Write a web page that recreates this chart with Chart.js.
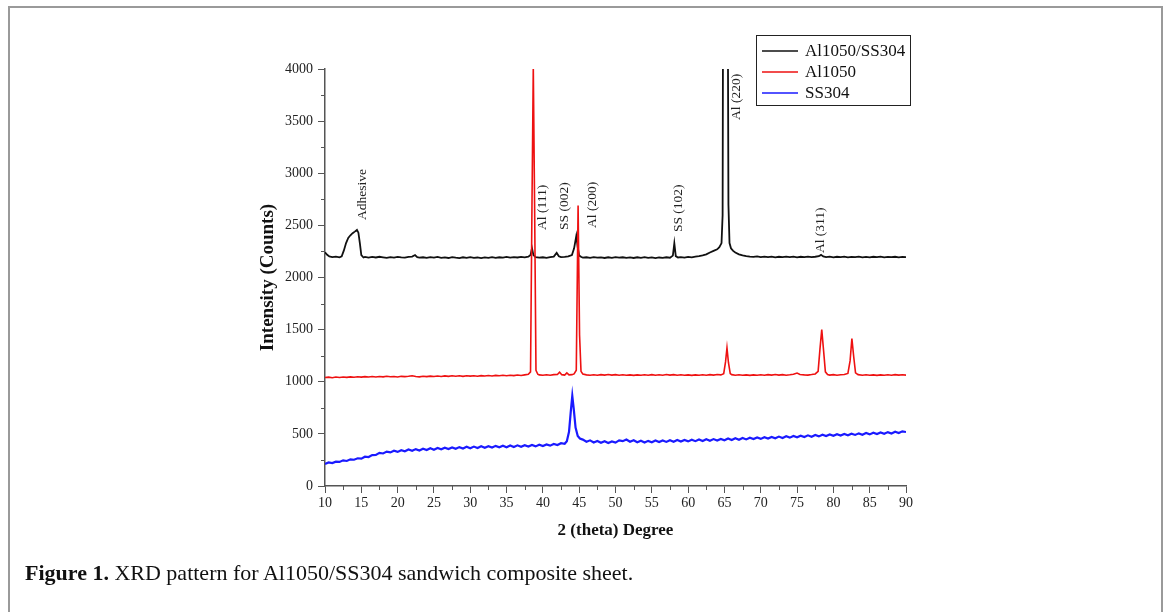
<!DOCTYPE html>
<html>
<head>
<meta charset="utf-8">
<title>XRD pattern for Al1050/SS304</title>
<script src="https://cdn.jsdelivr.net/npm/chart.js@4.4.1/dist/chart.umd.min.js"></script>
<style>
  html, body { margin: 0; padding: 0; background: #fff; }
  body { width: 1168px; height: 612px; position: relative; overflow: hidden;
         font-family: "Liberation Serif", "Times New Roman", serif; }
  #frame { position: absolute; left: 8px; top: 6px; width: 1151px; height: 700px;
           border: 2px solid #9a9a9a; border-bottom: none; }
  #xrd { position: absolute; left: 0; top: 0; }
  #caption { position: absolute; left: 25px; top: 560px; font-size: 22px; line-height: 26px; color: #111; }
</style>
</head>
<body>
<div id="frame"></div>
<canvas id="xrd" width="1168" height="612"></canvas>
<div id="caption"><b>Figure 1.</b> XRD pattern for Al1050/SS304 sandwich composite sheet.</div>
<script>
// Series names, in legend order
const seriesNames = ['Al1050/SS304', 'Al1050', 'SS304'];

// [2 theta, counts]
const sandwichPts = [
  [10,2242],[10.3,2218],[10.6,2202],[11,2196],[11.5,2201],[12,2194],[12.3,2203],[12.6,2260],[12.9,2330],[13.2,2380],
  [13.5,2405],[13.8,2425],[14.1,2440],[14.4,2456],[14.6,2430],[14.8,2330],[15,2215],[15.3,2192],[15.5,2198],[16,2190],
  [16.5,2197],[17,2192],[17.5,2199],[18,2194],[18.5,2189],[19,2196],[19.5,2191],[20,2198],[20.5,2193],[21,2190],
  [21.5,2197],[22,2201],[22.4,2216],[22.7,2196],[23,2191],[23.5,2194],[24,2188],[24.5,2195],[25,2190],[25.5,2197],
  [26,2189],[26.5,2193],[27,2187],[27.5,2196],[28,2190],[28.5,2186],[29,2194],[29.5,2189],[30,2196],[30.5,2188],
  [31,2192],[31.5,2186],[32,2193],[32.5,2189],[33,2195],[33.5,2188],[34,2194],[34.5,2190],[35,2197],[35.5,2191],
  [36,2195],[36.5,2192],[37,2198],[37.5,2193],[38,2199],[38.3,2215],[38.5,2282],[38.7,2215],[39,2196],[39.5,2190],
  [40,2194],[40.5,2189],[41,2195],[41.5,2200],[41.9,2236],[42.2,2204],[42.5,2195],[43,2198],[43.5,2202],[44,2215],
  [44.3,2280],[44.6,2398],[44.8,2290],[45,2210],[45.3,2196],[45.5,2190],[46,2194],[46.5,2188],[47,2195],[47.5,2190],
  [48,2193],[48.5,2187],[49,2194],[49.5,2189],[50,2196],[50.5,2190],[51,2194],[51.5,2188],[52,2193],[52.5,2187],
  [53,2194],[53.5,2189],[54,2195],[54.5,2188],[55,2193],[55.5,2186],[56,2192],[56.5,2188],[57,2194],[57.5,2190],
  [57.9,2210],[58.1,2328],[58.3,2205],[58.6,2192],[59,2196],[59.5,2190],[60,2198],[60.5,2193],[61,2200],[61.5,2205],
  [62,2212],[62.5,2222],[63,2240],[63.5,2255],[64,2270],[64.3,2290],[64.6,2330],[64.75,2600],[64.85,6000],[65.1,12000],
  [65.4,6000],[65.55,2700],[65.7,2330],[65.9,2280],[66.2,2255],[66.5,2240],[67,2222],[67.5,2212],[68,2205],[68.5,2200],
  [69,2197],[69.5,2203],[70,2196],[70.5,2201],[71,2195],[71.5,2200],[72,2194],[72.5,2199],[73,2195],[73.5,2201],
  [74,2196],[74.5,2200],[75,2194],[75.5,2199],[76,2195],[76.5,2201],[77,2196],[77.5,2199],[78,2204],[78.3,2217],
  [78.6,2202],[79,2196],[79.5,2200],[80,2194],[80.5,2199],[81,2195],[81.5,2200],[82,2194],[82.5,2198],[83,2195],
  [83.5,2200],[84,2193],[84.5,2198],[85,2194],[85.5,2199],[86,2195],[86.5,2200],[87,2194],[87.5,2198],[88,2195],
  [88.5,2199],[89,2194],[89.5,2198],[90,2196]
];

const al1050Pts = [
  [10,1040],[10.5,1044],[11,1039],[11.5,1045],[12,1041],[12.5,1046],[13,1042],[13.5,1047],[14,1043],[14.5,1048],
  [15,1044],[15.5,1049],[16,1045],[16.5,1050],[17,1046],[17.5,1051],[18,1047],[18.5,1052],[19,1048],[19.5,1050],
  [20,1046],[20.5,1052],[21,1049],[21.5,1053],[22,1058],[22.5,1050],[23,1047],[23.5,1053],[24,1049],[24.5,1054],
  [25,1050],[25.5,1055],[26,1051],[26.5,1056],[27,1052],[27.5,1057],[28,1053],[28.5,1057],[29,1052],[29.5,1058],
  [30,1054],[30.5,1058],[31,1053],[31.5,1059],[32,1055],[32.5,1060],[33,1055],[33.5,1061],[34,1057],[34.5,1062],
  [35,1058],[35.5,1063],[36,1059],[36.5,1064],[37,1060],[37.5,1066],[38,1072],[38.3,1095],[38.5,2700],[38.68,4015],
  [38.86,2700],[39.05,1110],[39.3,1072],[39.5,1066],[40,1062],[40.5,1067],[41,1063],[41.5,1068],[42,1070],[42.3,1092],
  [42.6,1068],[43,1064],[43.3,1085],[43.6,1066],[44,1068],[44.3,1075],[44.6,1110],[44.85,2690],[45.05,1450],[45.25,1100],
  [45.5,1074],[46,1066],[46.5,1062],[47,1067],[47.5,1063],[48,1068],[48.5,1064],[49,1069],[49.5,1064],[50,1068],
  [50.5,1063],[51,1067],[51.5,1062],[52,1066],[52.5,1061],[53,1066],[53.5,1062],[54,1067],[54.5,1063],[55,1068],
  [55.5,1062],[56,1067],[56.5,1063],[57,1069],[57.5,1064],[58,1068],[58.5,1063],[59,1067],[59.5,1062],[60,1066],
  [60.5,1061],[61,1066],[61.5,1062],[62,1067],[62.5,1063],[63,1068],[63.5,1064],[64,1069],[64.5,1066],[64.9,1078],
  [65.15,1190],[65.35,1325],[65.55,1185],[65.8,1078],[66,1068],[66.5,1063],[67,1067],[67.5,1062],[68,1066],[68.5,1061],
  [69,1066],[69.5,1062],[70,1067],[70.5,1063],[71,1068],[71.5,1064],[72,1069],[72.5,1064],[73,1068],[73.5,1063],
  [74,1067],[74.5,1072],[75,1084],[75.4,1070],[76,1066],[76.5,1064],[77,1069],[77.5,1075],[77.9,1100],[78.15,1310],
  [78.4,1500],[78.65,1300],[78.9,1095],[79.2,1070],[79.5,1064],[80,1068],[80.5,1063],[81,1067],[81.5,1070],[82,1080],
  [82.3,1200],[82.55,1415],[82.8,1240],[83.05,1085],[83.4,1068],[84,1063],[84.5,1067],[85,1062],[85.5,1066],[86,1061],
  [86.5,1066],[87,1062],[87.5,1067],[88,1063],[88.5,1068],[89,1064],[89.5,1067],[90,1064]
];

const ss304Pts = [
  [10,212],[10.5,226],[11,220],[11.5,234],[12,231],[12.5,246],[13,240],[13.5,256],[14,252],[14.5,266],
  [15,262],[15.5,281],[16,278],[16.5,296],[17,298],[17.5,318],[18,312],[18.5,330],[19,322],[19.5,338],
  [20,327],[20.5,344],[21,333],[21.5,350],[22,338],[22.5,354],[23,341],[23.5,357],[24,345],[24.5,362],
  [25,348],[25.5,364],[26,352],[26.5,368],[27,355],[27.5,370],[28,357],[28.5,373],[29,360],[29.5,376],
  [30,362],[30.5,378],[31,365],[31.5,381],[32,367],[32.5,382],[33,369],[33.5,385],[34,371],[34.5,386],
  [35,372],[35.5,388],[36,374],[36.5,390],[37,376],[37.5,392],[38,378],[38.5,394],[39,380],[39.5,396],
  [40,383],[40.5,399],[41,387],[41.5,403],[42,393],[42.5,410],[43,405],[43.3,430],[43.6,520],[43.85,720],
  [44.05,865],[44.25,740],[44.5,560],[44.8,480],[45.1,455],[45.5,445],[46,425],[46.5,438],[47,418],[47.5,432],
  [48,414],[48.5,429],[49,413],[49.5,428],[50,416],[50.5,438],[51,430],[51.5,446],[52,424],[52.5,438],
  [53,419],[53.5,434],[54,418],[54.5,433],[55,420],[55.5,436],[56,421],[56.5,437],[57,423],[57.5,439],
  [58,425],[58.5,441],[59,426],[59.5,442],[60,428],[60.5,444],[61,430],[61.5,446],[62,432],[62.5,448],
  [63,434],[63.5,450],[64,436],[64.5,452],[65,438],[65.5,455],[66,441],[66.5,458],[67,444],[67.5,461],
  [68,447],[68.5,463],[69,450],[69.5,466],[70,452],[70.5,468],[71,455],[71.5,471],[72,458],[72.5,474],
  [73,461],[73.5,477],[74,464],[74.5,480],[75,467],[75.5,483],[76,470],[76.5,486],[77,473],[77.5,489],
  [78,476],[78.5,492],[79,479],[79.5,495],[80,481],[80.5,497],[81,484],[81.5,499],[82,487],[82.5,502],
  [83,490],[83.5,505],[84,492],[84.5,508],[85,495],[85.5,511],[86,498],[86.5,514],[87,501],[87.5,517],
  [88,504],[88.5,520],[89,508],[89.5,524],[90,518]
];

// Peak labels: text, and the 2 theta / counts where each rotated label starts
const peakNames  = ['Adhesive', 'Al (111)', 'SS (002)', 'Al (200)', 'SS (102)', 'Al (220)', 'Al (311)'];
const peakTheta  = [15.1, 40.0, 43.0, 46.8, 58.6, 66.7, 78.2];
const peakCounts = [2552, 2456, 2456, 2475, 2436, 3511, 2235];

// Axis ticks
const xTickValues = [10, 15, 20, 25, 30, 35, 40, 45, 50, 55, 60, 65, 70, 75, 80, 85, 90];
const xMinorTicks = [12.5, 17.5, 22.5, 27.5, 32.5, 37.5, 42.5, 47.5, 52.5, 57.5, 62.5, 67.5, 72.5, 77.5, 82.5, 87.5];
const yTickValues = [0, 500, 1000, 1500, 2000, 2500, 3000, 3500, 4000];
const yMinorTicks = [250, 750, 1250, 1750, 2250, 2750, 3250, 3750];

const serif = '"Liberation Serif", "Times New Roman", serif';
const axisColor = '#555';
const lineColors = ['#111111', '#ee1111', '#1a1aff'];
const lineWidths = [1.8, 1.6, 2.2];

// minor ticks, rotated peak labels and the boxed legend
const extras = {
  id: 'extras',
  afterDraw(chart) {
    const ctx = chart.ctx;
    const xs = chart.scales.x;
    const ys = chart.scales.y;
    const area = chart.chartArea;
    ctx.save();

    ctx.strokeStyle = axisColor;
    ctx.lineWidth = 1;
    ctx.beginPath();
    xMinorTicks.forEach(v => {
      const px = Math.round(xs.getPixelForValue(v)) + 0.5;
      ctx.moveTo(px, area.bottom);
      ctx.lineTo(px, area.bottom + 4);
    });
    yMinorTicks.forEach(v => {
      const py = Math.round(ys.getPixelForValue(v)) + 0.5;
      ctx.moveTo(area.left, py);
      ctx.lineTo(area.left - 4, py);
    });
    ctx.stroke();

    ctx.fillStyle = '#222';
    ctx.font = '13.5px ' + serif;
    ctx.textAlign = 'left';
    ctx.textBaseline = 'middle';
    peakNames.forEach((name, i) => {
      ctx.save();
      ctx.translate(xs.getPixelForValue(peakTheta[i]), ys.getPixelForValue(peakCounts[i]));
      ctx.rotate(-Math.PI / 2);
      ctx.fillText(name, 0, 0);
      ctx.restore();
    });

    // legend
    const box = { x: 756, y: 35, w: 154, h: 70 };
    ctx.strokeStyle = '#222';
    ctx.lineWidth = 1;
    ctx.strokeRect(box.x + 0.5, box.y + 0.5, box.w, box.h);
    ctx.font = '17px ' + serif;
    ctx.fillStyle = '#111';
    chart.data.datasets.forEach((ds, i) => {
      const rowY = box.y + 16 + i * 21;
      ctx.strokeStyle = ds.borderColor;
      ctx.lineWidth = 1.5;
      ctx.beginPath();
      ctx.moveTo(box.x + 6, rowY);
      ctx.lineTo(box.x + 42, rowY);
      ctx.stroke();
      ctx.fillText(ds.label, box.x + 49, rowY + 1);
    });

    ctx.restore();
  }
};

new Chart(document.getElementById('xrd'), {
  type: 'line',
  data: {
    datasets: [
      { label: seriesNames[0], data: sandwichPts, borderColor: lineColors[0], borderWidth: lineWidths[0], order: 1 },
      { label: seriesNames[1], data: al1050Pts, borderColor: lineColors[1], borderWidth: lineWidths[1], order: 0 },
      { label: seriesNames[2], data: ss304Pts, borderColor: lineColors[2], borderWidth: lineWidths[2], order: 2 }
    ]
  },
  options: {
    responsive: false,
    animation: false,
    devicePixelRatio: 1,
    layout: { padding: { left: 240, right: 262, top: 69, bottom: 66 } },
    elements: {
      line: { tension: 0 },
      point: { radius: 0 }
    },
    plugins: {
      legend: { display: false },
      tooltip: { enabled: false }
    },
    scales: {
      x: {
        type: 'linear',
        min: 10,
        max: 90,
        afterBuildTicks: s => { s.ticks = xTickValues.map(v => ({ value: v })); },
        afterFit: s => { s.height = 60; },
        border: { color: axisColor, width: 1.5 },
        grid: { drawOnChartArea: false, tickLength: 7, tickColor: axisColor, tickWidth: 1 },
        ticks: { font: { family: serif, size: 14 }, color: '#222', padding: 2, maxRotation: 0, autoSkip: false,
                 callback: v => String(v) },
        title: {
          display: true, text: '2 (theta) Degree', color: '#111',
          font: { family: serif, size: 17, weight: 'bold' },
          padding: { top: 0, bottom: 5 }
        }
      },
      y: {
        min: 0,
        max: 4000,
        afterBuildTicks: s => { s.ticks = yTickValues.map(v => ({ value: v })); },
        afterFit: s => { s.width = 85; },
        border: { color: axisColor, width: 1.5 },
        grid: { drawOnChartArea: false, tickLength: 7, tickColor: axisColor, tickWidth: 1 },
        ticks: { font: { family: serif, size: 14 }, color: '#222', padding: 5, callback: v => String(v) },
        title: {
          display: true, text: 'Intensity (Counts)', color: '#111',
          font: { family: serif, size: 19, weight: 'bold' },
          padding: { top: 17, bottom: 0 }
        }
      }
    }
  },
  plugins: [extras]
});
</script>
</body>
</html>
